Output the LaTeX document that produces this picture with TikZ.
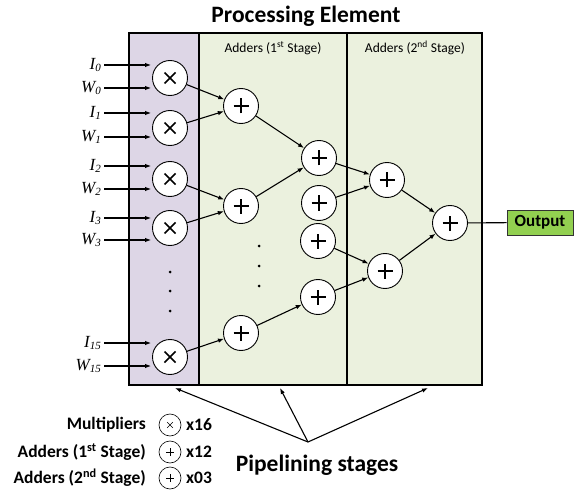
\documentclass[tikz,border=0pt]{standalone}
\usepackage{fontspec}
\setmainfont{Carlito}
\newfontfamily\serifit{Liberation Serif}
\usetikzlibrary{arrows.meta}
\definecolor{mulpurple}{RGB}{221,214,230}
\definecolor{addgreen}{RGB}{235,241,222}
\definecolor{outgreen}{RGB}{146,208,80}
\newcommand\inlab[2]{{\serifit\itshape #1\raisebox{-0.35ex}{\fontsize{11}{11}\selectfont #2}}}
\begin{document}
\begin{tikzpicture}[x=1pt,y=-1pt,
  mulnode/.style={circle,draw,line width=0.9pt,fill=white,minimum size=35pt,inner sep=0pt,
    path picture={\draw[line width=1.6pt] (path picture bounding box.center) +(-5.5pt,-5.5pt) -- +(5.5pt,5.5pt) +(-5.5pt,5.5pt) -- +(5.5pt,-5.5pt);}},
  addnode/.style={circle,draw,line width=0.9pt,fill=white,minimum size=35pt,inner sep=0pt,
    path picture={\draw[line width=1.6pt] (path picture bounding box.center) +(-7.5pt,0) -- +(7.5pt,0) +(0,-7.5pt) -- +(0,7.5pt);}},
  legmul/.style={circle,draw,line width=0.6pt,minimum size=22pt,inner sep=0pt,
    path picture={\draw[line width=0.7pt] (path picture bounding box.center) +(-2.8pt,-2.8pt) -- +(2.8pt,2.8pt) +(-2.8pt,2.8pt) -- +(2.8pt,-2.8pt);}},
  legadd/.style={circle,draw,line width=0.6pt,minimum size=22pt,inner sep=0pt,
    path picture={\draw[line width=0.8pt] (path picture bounding box.center) +(-4pt,0) -- +(4pt,0) +(0,-4pt) -- +(0,4pt);}},
  conn/.style={line width=1.1pt,-{Latex[length=6pt,width=4.5pt]}},
  inl/.style={anchor=east,inner sep=0pt,font=\fontsize{17}{17}\selectfont},
  dotn/.style={circle,fill=black,inner sep=0pt,minimum size=3pt},
  stagelab/.style={font=\fontsize{13.5}{13.5}\selectfont},
  legtext/.style={anchor=east,inner sep=0pt,font=\bfseries\fontsize{17.5}{17.5}\selectfont},
  legcount/.style={anchor=west,inner sep=0pt,font=\bfseries\fontsize{17.5}{17.5}\selectfont}]
\useasboundingbox (0,0) rectangle (574,495);
% stage backgrounds
\fill[mulpurple] (129,33) rectangle (199,385);
\fill[addgreen] (199,33) rectangle (482,385);
\draw[line width=2pt] (129,33) rectangle (482,385);
\draw[line width=2pt] (199,33) -- (199,385);
\draw[line width=2pt] (347,33) -- (347,385);
% titles
\node (title) at (306,16) {\bfseries\fontsize{23.5}{23.5}\selectfont Processing Element};
\node[stagelab] (s1) at (273,48) {Adders (1\textsuperscript{st} Stage)};
\node[stagelab] (s2) at (415,48) {Adders (2\textsuperscript{nd} Stage)};
% multipliers
\node[mulnode] (m0) at (170,78) {};
\node[mulnode] (m1) at (170,128) {};
\node[mulnode] (m2) at (170,179) {};
\node[mulnode] (m3) at (170,228) {};
\node[mulnode] (m15) at (170,357) {};
% first stage adders
\node[addnode] (a1) at (241,106) {};
\node[addnode] (a2) at (241,206) {};
\node[addnode] (a3) at (241,333) {};
\node[addnode] (b1) at (319,158) {};
\node[addnode] (b2) at (319,203) {};
\node[addnode] (b3) at (318,241) {};
\node[addnode] (b4) at (318,297) {};
% second stage adders
\node[addnode] (c1) at (387,180) {};
\node[addnode] (c2) at (385,271) {};
\node[addnode] (d) at (450,223) {};
% output
\node[draw=black!80,line width=0.6pt,fill=outgreen,minimum width=66pt,minimum height=25pt,inner sep=0pt,font=\bfseries\fontsize{17}{17}\selectfont] (out) at (540,222.5) {Output};
\draw[line width=1.1pt] (d) -- (out);
% dots
\node[dotn] (p1) at (170,272) {};
\node[dotn] (p2) at (170,291) {};
\node[dotn] (p3) at (170,311) {};
\node[dotn] (g1) at (259,246) {};
\node[dotn] (g2) at (259,266) {};
\node[dotn] (g3) at (259,286) {};
% inputs
\node[inl] (i0) at (101,65) {\inlab{I}{0}};
\node[inl] (w0) at (101,88) {\inlab{W}{0}};
\node[inl] (i1) at (101,113) {\inlab{I}{1}};
\node[inl] (w1) at (101,137) {\inlab{W}{1}};
\node[inl] (i2) at (101,166) {\inlab{I}{2}};
\node[inl] (w2) at (101,189) {\inlab{W}{2}};
\node[inl] (i3) at (101,218) {\inlab{I}{3}};
\node[inl] (w3) at (101,240) {\inlab{W}{3}};
\node[inl] (i15) at (101,343) {\inlab{I}{15}};
\node[inl] (w15) at (101,366) {\inlab{W}{15}};
\foreach \l/\m in {i0/m0,w0/m0,i1/m1,w1/m1,i2/m2,w2/m2,i3/m3,w3/m3,i15/m15,w15/m15}
  \draw[conn] ([xshift=3pt]\l.east) -- ([xshift=-1pt]\l.east -| \m.west);
% connections
\draw[conn] (m0) -- (a1);
\draw[conn] (m1) -- (a1);
\draw[conn] (m2) -- (a2);
\draw[conn] (m3) -- (a2);
\draw[conn] (m15) -- (a3);
\draw[conn] (a1) -- (b1);
\draw[conn] (a2) -- (b1);
\draw[conn] (a3) -- (b4);
\draw[conn] (b1) -- (c1);
\draw[conn] (b2) -- (c1);
\draw[conn] (b3) -- (c2);
\draw[conn] (b4) -- (c2);
\draw[conn] (c1) -- (d);
\draw[conn] (c2) -- (d);
% pipelining stages
\coordinate (apex) at (308,442);
\coordinate (t1) at (175,388);
\coordinate (t2) at (280,388);
\coordinate (t3) at (428,388);
\draw[conn] (apex) -- (t1);
\draw[conn] (apex) -- (t2);
\draw[conn] (apex) -- (t3);
\node (pipe) at (317,465) {\bfseries\fontsize{23.5}{23.5}\selectfont Pipelining stages};
% legend
\node[legtext] (lt1) at (146,425) {Multipliers};
\node[legtext] (lt2) at (146,452) {Adders (1\textsuperscript{st} Stage)};
\node[legtext] (lt3) at (146,478) {Adders (2\textsuperscript{nd} Stage)};
\node[legmul] (lc1) at (170,425) {};
\node[legadd] (lc2) at (170,452) {};
\node[legadd] (lc3) at (170,478) {};
\node[legcount] (ln1) at (186,425) {x16};
\node[legcount] (ln2) at (186,452) {x12};
\node[legcount] (ln3) at (186,478) {x03};
\end{tikzpicture}
\end{document}
